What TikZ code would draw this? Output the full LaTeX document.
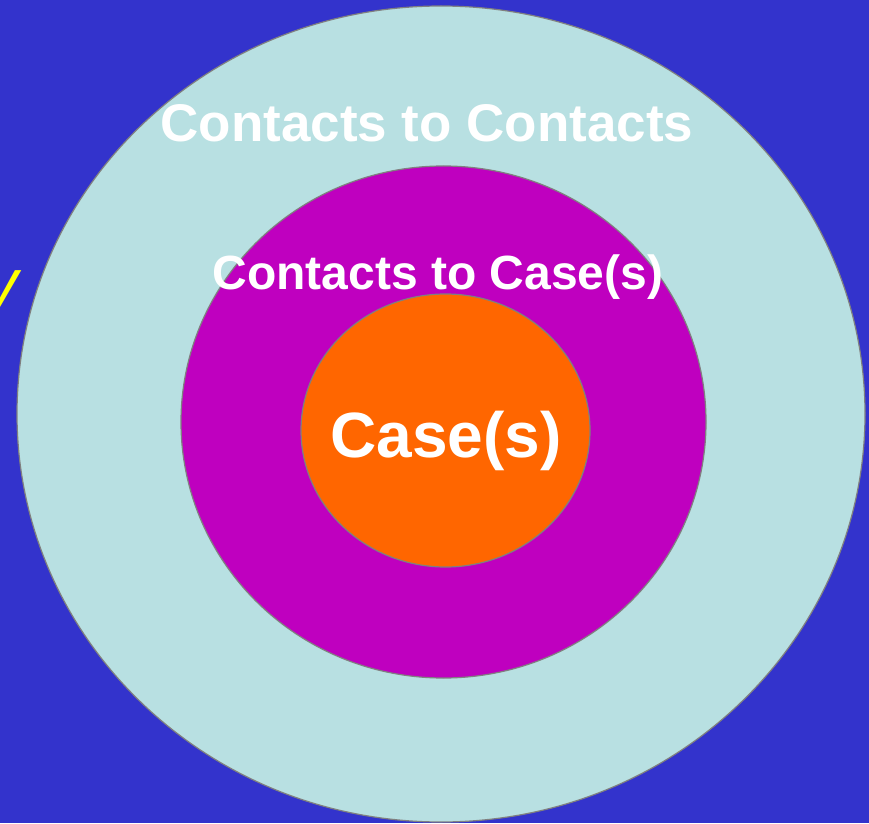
\documentclass[tikz,border=0pt]{standalone}
\usepackage{fontspec}
\setmainfont{Liberation Sans}
\definecolor{bgblue}{RGB}{51,51,204}
\definecolor{ringlight}{RGB}{184,224,226}
\definecolor{ringmag}{RGB}{191,0,191}
\definecolor{coreorange}{RGB}{255,102,0}
\definecolor{edgegray}{RGB}{128,128,128}
\definecolor{sideyellow}{RGB}{255,255,0}
\tikzset{
  ring/.style={draw=edgegray, line width=1.2pt},
  ringlabel/.style={text=white, font=\bfseries, anchor=base, inner sep=0pt},
}
\begin{document}
\begin{tikzpicture}[x=1pt,y=1pt]
\fill[bgblue] (0,0) rectangle (869,823);
\useasboundingbox (0,0) rectangle (869,823);
\node[text=sideyellow, font=\itshape\fontsize{66}{72}\selectfont, anchor=base east, inner sep=0pt] (side) at (19,517) {y};
\draw[ring, fill=ringlight] (441,409) ellipse [x radius=424, y radius=408];
\draw[ring, fill=ringmag] (443.5,401) ellipse [x radius=262.5, y radius=256];
\draw[ring, fill=coreorange] (445.5,392.5) ellipse [x radius=144.5, y radius=136.5];
\node[ringlabel, font=\bfseries\fontsize{53}{60}\selectfont] (outer) at (427,681) {Contacts to Contacts};
\node[ringlabel, font=\bfseries\fontsize{48}{56}\selectfont] (middle) at (438,533) {Contacts to Case(s)};
\node[ringlabel, font=\bfseries\fontsize{64}{72}\selectfont] (core) at (446,366) {Case(s)};
\end{tikzpicture}
\end{document}
